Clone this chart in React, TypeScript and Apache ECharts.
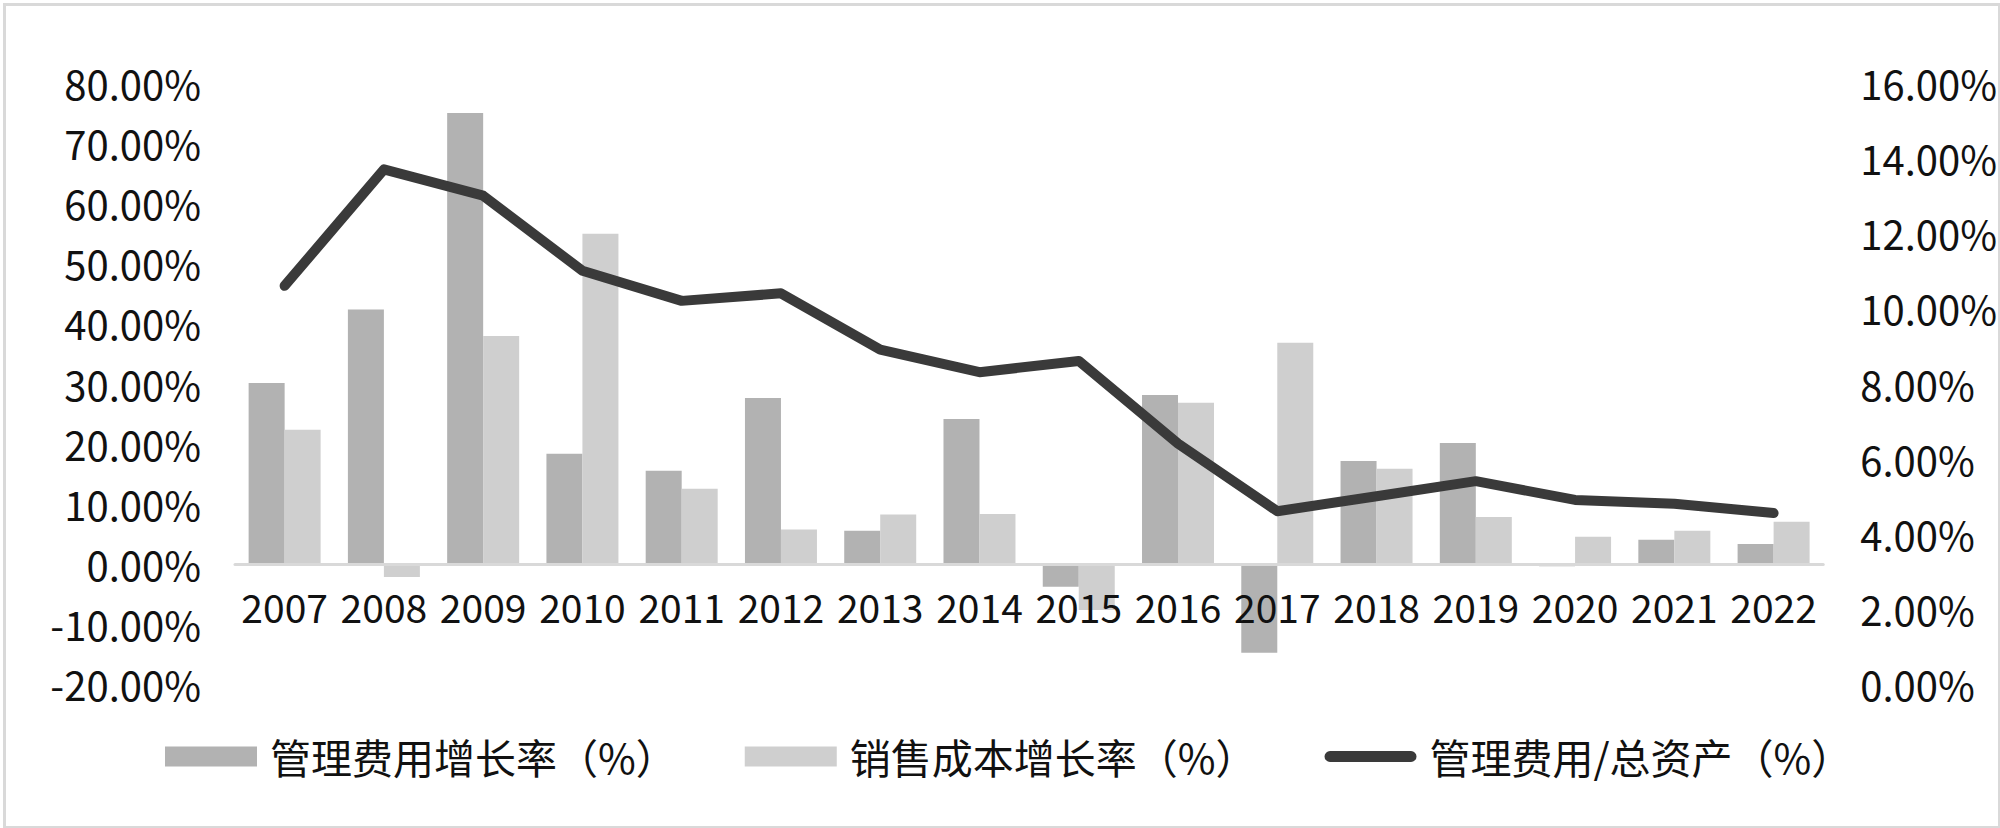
import React, { useEffect, useRef } from "react";
import * as echarts from "echarts";

const years = ["2007","2008","2009","2010","2011","2012","2013","2014","2015","2016","2017","2018","2019","2020","2021","2022"];
const mgmtGrowth = [30.1, 42.3, 75.0, 18.3, 15.5, 27.6, 5.5, 24.1, -3.8, 28.1, -14.8, 17.1, 20.1, -0.4, 4.0, 3.3];
const salesCostGrowth = [22.3, -2.2, 37.9, 54.9, 12.5, 5.7, 8.2, 8.3, -7.7, 26.8, 36.8, 15.8, 7.8, 4.5, 5.5, 7.0];
const mgmtToAssets = [10.6, 13.7, 13.0, 11.0, 10.2, 10.4, 8.9, 8.3, 8.6, 6.4, 4.6, 5.0, 5.4, 4.9, 4.8, 4.55];
const seriesNames = ["管理费用增长率（%）", "销售成本增长率（%）", "管理费用/总资产（%）"];

const FONT = '"Noto Sans CJK SC", "Noto Sans", sans-serif';
const LINE_ICON = "path://M6,0 L95,0 A6,6 0 0 1 95,12 L6,12 A6,6 0 0 1 6,0 Z";

export default function App() {
  const ref = useRef<HTMLDivElement>(null);
  useEffect(() => {
    if (!ref.current) return;
    const chart = echarts.init(ref.current, undefined, { renderer: "svg" });
    const pct = (v: number) => v.toFixed(2) + "%";
    chart.setOption({
      animation: false,
      backgroundColor: "#ffffff",
      textStyle: { fontFamily: FONT },
      grid: { left: 235, right: 167, top: 83, bottom: 144, containLabel: false },
      legend: {
        left: 160,
        top: 731,
        itemWidth: 92,
        itemHeight: 20,
        itemGap: 68,
        symbolKeepAspect: true,
        textStyle: { fontSize: 41, color: "#111", fontFamily: FONT, padding: [0, 0, 0, 8] },
        data: [
          { name: seriesNames[0], icon: "rect" },
          { name: seriesNames[1], icon: "rect" },
          { name: seriesNames[2], icon: LINE_ICON },
        ],
      },
      xAxis: {
        type: "category",
        data: years,
        offset: -120,
        z: 6,
        axisLine: { onZero: false, lineStyle: { color: "#d9d9d9", width: 3 } },
        axisTick: { show: false },
        axisLabel: { fontSize: 39, color: "#111", margin: 22, interval: 0, fontFamily: FONT },
      },
      yAxis: [
        {
          type: "value",
          min: -20,
          max: 80,
          interval: 10,
          splitLine: { show: false },
          axisLine: { show: false },
          axisTick: { show: false },
          axisLabel: { fontSize: 40, color: "#111", margin: 34, formatter: pct, fontFamily: FONT },
        },
        {
          type: "value",
          min: 0,
          max: 16,
          interval: 2,
          splitLine: { show: false },
          axisLine: { show: false },
          axisTick: { show: false },
          axisLabel: { fontSize: 40, color: "#111", margin: 37, formatter: pct, fontFamily: FONT },
        },
      ],
      series: [
        {
          name: seriesNames[0],
          type: "bar",
          data: mgmtGrowth,
          barWidth: 36,
          barGap: "0%",
          itemStyle: { color: "#b2b2b2" },
        },
        {
          name: seriesNames[1],
          type: "bar",
          data: salesCostGrowth,
          barWidth: 36,
          barGap: "0%",
          itemStyle: { color: "#cfcfcf" },
        },
        {
          name: seriesNames[2],
          type: "line",
          yAxisIndex: 1,
          data: mgmtToAssets,
          symbol: "none",
          z: 8,
          itemStyle: { color: "#3a3a3a" },
          lineStyle: { color: "#3a3a3a", width: 10, cap: "round", join: "round" },
        },
      ],
      graphic: [
        {
          type: "rect",
          left: 2,
          top: 2,
          shape: { x: 0, y: 0, width: 1995, height: 823 },
          style: { fill: "none", stroke: "#d9d9d9", lineWidth: 3 },
          silent: true,
        },
      ],
    });
    return () => chart.dispose();
  }, []);
  return (
    <div
      ref={ref}
      style={{ position: "fixed", left: 0, top: 0, width: 2000, height: 828, background: "#fff" }}
    />
  );
}
